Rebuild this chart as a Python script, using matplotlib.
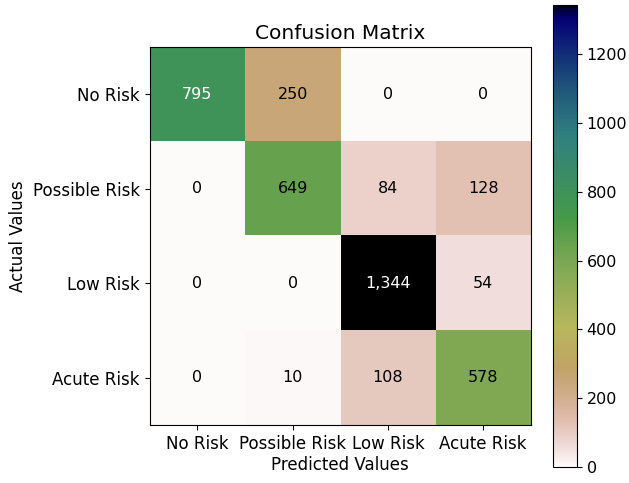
import numpy as np
import matplotlib
matplotlib.use("Agg")
import matplotlib.pyplot as plt

LABELS = ["No Risk", "Possible Risk", "Low Risk", "Acute Risk"]
CM = np.array([
    [795, 250, 0, 0],
    [0, 649, 84, 128],
    [0, 0, 1344, 54],
    [0, 10, 108, 578],
])

fig = plt.figure(figsize=(6.29, 4.83), dpi=100)
ax = fig.add_axes([0.238, 0.12, 0.606, 0.783])
cax = fig.add_axes([0.879, 0.033, 0.038, 0.957])

im = ax.imshow(CM, cmap="gist_earth_r", vmin=0, vmax=CM.max(), aspect="auto")
cb = fig.colorbar(im, cax=cax)
cb.set_ticks([0, 200, 400, 600, 800, 1000, 1200])
cb.ax.tick_params(labelsize=11.5)

thresh = CM.max() / 2
for i in range(CM.shape[0]):
    for j in range(CM.shape[1]):
        ax.text(j, i, f"{CM[i, j]:,}", ha="center", va="center", fontsize=11.5,
                color="white" if CM[i, j] > thresh else "black")

ax.set_xticks(range(len(LABELS)))
ax.set_xticklabels(LABELS, fontsize=12)
ax.set_yticks(range(len(LABELS)))
ax.set_yticklabels(LABELS, fontsize=12)
ax.set_xlabel("Predicted Values", fontsize=12, labelpad=2)
ax.set_ylabel("Actual Values", fontsize=12)
ax.set_title("Confusion Matrix", fontsize=14.5)

fig.savefig("out.png", dpi=100)
